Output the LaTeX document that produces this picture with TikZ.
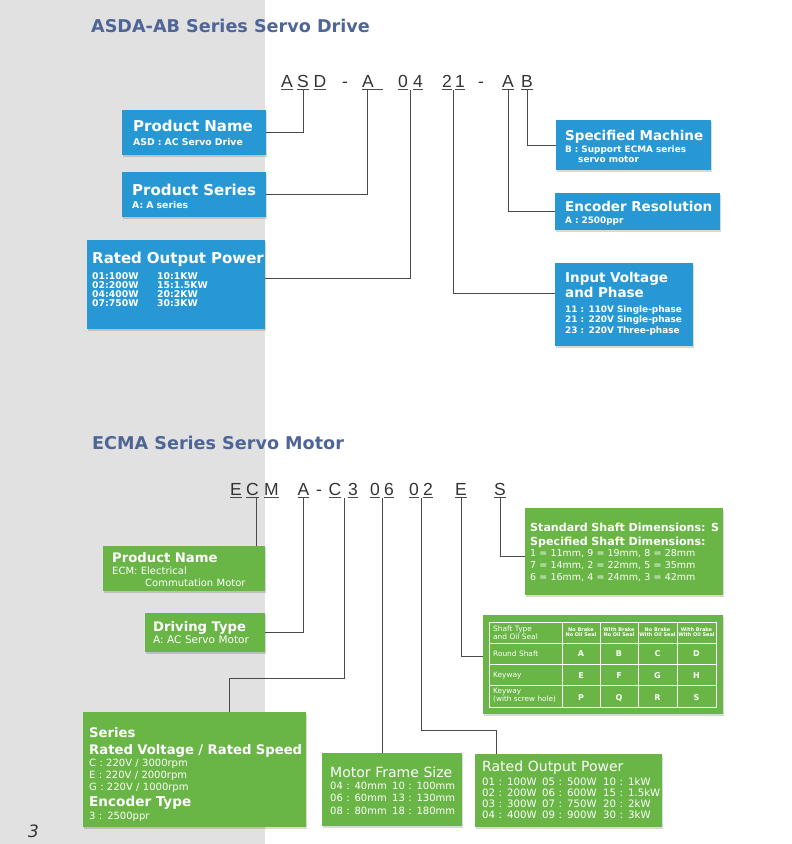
\documentclass[tikz,border=0pt]{standalone}
\usepackage{fontspec}
\setmainfont{DejaVu Sans}
\newfontfamily\codefont{Liberation Sans}
\usepackage{tikz}
\usetikzlibrary{calc,shadows}

\definecolor{drvblue}{HTML}{2898D5}
\definecolor{motgreen}{HTML}{69B545}
\definecolor{headblue}{HTML}{4F6597}
\definecolor{panelgray}{HTML}{E1E1E1}
\definecolor{wirecol}{HTML}{4A4A4A}

% underlined code letter
\newcommand{\ulc}[1]{\setbox0\hbox{#1}\rlap{\color{wirecol}\rule[-3.2pt]{\wd0}{0.8pt}}\box0}

\tikzset{
  heading/.style={anchor=base west, inner sep=0pt, text=headblue, font=\bfseries\fontsize{17.6}{20}\selectfont},
  codechar/.style={anchor=base, inner sep=0pt, text=black!80, font=\codefont\fontsize{17.5}{20}\selectfont},
  shadowed/.style={drop shadow={shadow xshift=1pt, shadow yshift=-2pt, opacity=0.15, fill=black}},
  bluebox/.style={fill=drvblue, anchor=north west, inner sep=0pt, shadowed},
  greenbox/.style={fill=motgreen, anchor=north west, inner sep=0pt, shadowed},
  txt/.style={anchor=base west, inner sep=0pt, text=white, align=left, text width=230pt},
  drvtitle/.style={txt, font=\bfseries\fontsize{15}{15}\selectfont},
  drvtitleR/.style={txt, font=\bfseries\fontsize{13.5}{15}\selectfont},
  drvtext/.style={txt, font=\bfseries\fontsize{9.3}{9}\selectfont},
  drvtextR/.style={txt, font=\bfseries\fontsize{8.9}{10.6}\selectfont},
  mottitle/.style={txt, font=\bfseries\fontsize{13.2}{17}\selectfont},
  mottitleL/.style={txt, font=\fontsize{14}{14}\selectfont},
  mottext/.style={txt, font=\fontsize{10}{12}\selectfont},
  wire/.style={draw=wirecol, line width=0.8pt},
  tablegrid/.style={draw=white, line width=0.8pt},
  cellhead/.style={txt, font=\fontsize{7.4}{8.5}\selectfont},
  colhead/.style={anchor=base, inner sep=0pt, text=white, align=center, text width=38pt, font=\bfseries\fontsize{5}{5.5}\selectfont},
  cellchar/.style={anchor=base, inner sep=0pt, text=white, font=\bfseries\fontsize{8}{8}\selectfont},
}

\begin{document}
\begin{tikzpicture}[x=1pt,y=-1pt]
\useasboundingbox (0,0) rectangle (792,844);
% Drawing panels
\fill[panelgray] (0,0) rectangle (265,844);
\node[heading] (drvhead) at (91,32) {ASDA-AB Series Servo Drive};
\node[heading] (mothead) at (92,449) {ECMA Series Servo Motor};
\node[anchor=base west, inner sep=0pt, text=black!80, font=\itshape\fontsize{17}{17}\selectfont] (pageno) at (28,837) {3};

% Drive code: ASD-A 04 21-AB
\node[codechar] (dA) at (287,87) {\ulc{A}};
\node[codechar] (dS) at (303,87) {\ulc{S}};
\node[codechar] (dD) at (320,87) {\ulc{D}};
\node[codechar] (dDash1) at (345,87) {-};
\node[codechar, anchor=base west] (dA2) at (362,87) {\ulc{A\kern9.5pt}};
\node[codechar] (d0) at (403,87) {\ulc{0}};
\node[codechar] (d4) at (418,87) {\ulc{4}};
\node[codechar] (d2) at (447,87) {\ulc{2}};
\node[codechar] (d1) at (460,87) {\ulc{1}};
\node[codechar] (dDash2) at (481,87) {-};
\node[codechar] (dA3) at (508,87) {\ulc{A}};
\node[codechar] (dB) at (527,87) {\ulc{B}};

% Drive boxes
\node[bluebox, minimum width=144, minimum height=45] (pname) at (122,110) {};
\node[drvtitle] (pnameT) at (133,131) {Product Name};
\node[drvtext] (pnameS) at (133,145) {ASD : AC Servo Drive};
\node[bluebox, minimum width=144, minimum height=45] (pseries) at (122,172) {};
\node[drvtitle] (pseriesT) at (132,195) {Product Series};
\node[drvtext] (pseriesS) at (132,208) {A: A series};
\node[bluebox, minimum width=178, minimum height=89] (rpower) at (87,240) {};
\node[drvtitle] (rpowerT) at (92,263) {Rated Output Power};
\node[drvtext] (rpowerA) at (92,279) {01:100W\\02:200W\\04:400W\\07:750W};
\node[drvtext] (rpowerB) at (157,279) {10:1KW\\15:1.5KW\\20:2KW\\30:3KW};
\node[bluebox, minimum width=155, minimum height=50] (smachine) at (556,120) {};
\node[drvtitleR] (smachineT) at (565,140) {Specified Machine};
\node[drvtextR] (smachineS) at (565,152) {B : Support ECMA series\\\hspace*{13pt}servo motor};
\node[bluebox, minimum width=165, minimum height=37] (encoder) at (555,193) {};
\node[drvtitleR] (encoderT) at (565,211) {Encoder Resolution};
\node[drvtextR] (encoderS) at (565,223) {A : 2500ppr};
\node[bluebox, minimum width=138, minimum height=83] (involt) at (555,263) {};
\node[drvtitleR] (involtT) at (565,282) {Input Voltage\\and Phase};
\node[drvtextR] (involtS) at (565,312) {11 : 110V Single-phase\\21 : 220V Single-phase\\23 : 220V Three-phase};

% Drive connectors
\draw[wire] (dS.south) |- (pname.east);
\draw[wire] ($(dA2.south west)+(5.5,0)$) |- (pseries.east);
\draw[wire] ($(d0.south east)!0.5!(d4.south west)$) |- ($(rpower.north east)+(0,38)$);
\draw[wire] ($(d2.south east)!0.5!(d1.south west)$) |- ($(involt.north west)+(0,30)$);
\draw[wire] (dA3.south) |- (encoder.west);
\draw[wire] (dB.south) |- (smachine.west);

% Motor code: ECM A-C3 06 02 E S
\node[codechar] (eE) at (236,495) {\ulc{E}};
\node[codechar] (eC) at (252.5,495) {\ulc{C}};
\node[codechar] (eM) at (271.5,495) {\ulc{M}};
\node[codechar] (eA) at (303.5,495) {\ulc{A}};
\node[codechar] (eDash) at (319,495) {-};
\node[codechar] (eC2) at (335,495) {\ulc{C}};
\node[codechar] (e3) at (353,495) {\ulc{3}};
\node[codechar] (e0a) at (375,495) {\ulc{0}};
\node[codechar] (e6) at (389,495) {\ulc{6}};
\node[codechar] (e0b) at (414,495) {\ulc{0}};
\node[codechar] (e2) at (428,495) {\ulc{2}};
\node[codechar] (eE2) at (461,495) {\ulc{E}};
\node[codechar] (eS) at (500,495) {\ulc{S}};

% Motor boxes
\node[greenbox, minimum width=162, minimum height=45] (gname) at (103,546) {};
\node[mottitle] (gnameT) at (112,562) {Product Name};
\node[mottext] (gnameS) at (112,574) {ECM: Electrical\\\hspace*{33pt}Commutation Motor};
\node[greenbox, minimum width=120, minimum height=39] (gdrive) at (145,613) {};
\node[mottitle] (gdriveT) at (153,631) {Driving Type};
\node[mottext, font=\fontsize{10.5}{12}\selectfont] (gdriveS) at (153,643) {A: AC Servo Motor};
\node[greenbox, minimum width=198, minimum height=87] (gshaft) at (525,508) {};
\node[mottitle, font=\bfseries\fontsize{11.1}{14}\selectfont] (gshaftT) at (530,531) {Standard Shaft Dimensions: S\\Specified Shaft Dimensions:};
\node[mottext, font=\fontsize{9.5}{12}\selectfont] (gshaftS) at (530,556) {1 = 11mm, 9 = 19mm, 8 = 28mm\\7 = 14mm, 2 = 22mm, 5 = 35mm\\6 = 16mm, 4 = 24mm, 3 = 42mm};
\node[greenbox, minimum width=240, minimum height=99] (gtable) at (483,615) {};
\node[greenbox, minimum width=223, minimum height=115] (gseries) at (83,712) {};
\node[mottitle] (gseriesT) at (89,737) {Series\\Rated Voltage / Rated Speed};
\node[mottext, font=\fontsize{10}{12.4}\selectfont] (gseriesS) at (89,766) {C : 220V / 3000rpm\\E : 220V / 2000rpm\\G : 220V / 1000rpm};
\node[mottitle, font=\bfseries\fontsize{13.6}{15}\selectfont] (gseriesE) at (89,806) {Encoder Type};
\node[mottext, font=\fontsize{10}{12.4}\selectfont] (gseriesF) at (89,819) {3 : 2500ppr};
\node[greenbox, minimum width=140, minimum height=73] (gframe) at (322,753) {};
\node[mottitleL] (gframeT) at (330,777) {Motor Frame Size};
\node[mottext, font=\fontsize{10}{12.5}\selectfont] (gframeA) at (330,789) {04 : 40mm\\06 : 60mm\\08 : 80mm};
\node[mottext, font=\fontsize{10}{12.5}\selectfont] (gframeB) at (392,789) {10 : 100mm\\13 : 130mm\\18 : 180mm};
\node[greenbox, minimum width=187, minimum height=73] (gpower) at (475,754) {};
\node[mottitleL] (gpowerT) at (482,771) {Rated Output Power};
\node[mottext, font=\fontsize{10.2}{11.3}\selectfont] (gpowerA) at (482,785) {01 : 100W\\02 : 200W\\03 : 300W\\04 : 400W};
\node[mottext, font=\fontsize{10.2}{11.3}\selectfont] (gpowerB) at (542,785) {05 : 500W\\06 : 600W\\07 : 750W\\09 : 900W};
\node[mottext, font=\fontsize{10.2}{11.3}\selectfont] (gpowerC) at (603,785) {10 : 1kW\\15 : 1.5kW\\20 : 2kW\\30 : 3kW};

% Shaft table
\draw[tablegrid] (489,622) rectangle (716,707);
\foreach \x in {562,600,638,677} \draw[tablegrid] (\x,622) -- (\x,707);
\foreach \y in {643,664,685} \draw[tablegrid] (489,\y) -- (716,\y);
\node[cellhead] (tHead) at (493,631) {Shaft Type\\and Oil Seal};
\node[cellhead] (tRow1) at (493,656) {Round Shaft};
\node[cellhead] (tRow2) at (493,677) {Keyway};
\node[cellhead, font=\fontsize{7.3}{8.5}\selectfont] (tRow3) at (493,693) {Keyway\\(with screw hole)};
\foreach \x/\a/\b [count=\i] in {581/No Brake/No Oil Seal,619/With Brake/No Oil Seal,657.5/No Brake/With Oil Seal,696.5/With Brake/With Oil Seal}
  \node[colhead] (tCol\i) at (\x,631) {\a\\\b};
\foreach \x/\p/\q/\r [count=\i] in {581/A/E/P,619/B/F/Q,657.5/C/G/R,696.5/D/H/S} {
  \node[cellchar] (tA\i) at (\x,656.5) {\p};
  \node[cellchar] (tB\i) at (\x,678) {\q};
  \node[cellchar] (tC\i) at (\x,700) {\r};
}

% Motor connectors
\draw[wire] ($(eC.south)+(4,0)$) coordinate (cn1) -- (cn1 |- gname.north);
\draw[wire] (eA.south) |- (gdrive.east);
\draw[wire] ($(eC2.south east)!0.5!(e3.south west)$) -- ++(0,180) -| ($(gseries.north west)+(146,0)$);
\draw[wire] ($(e0a.south east)!0.5!(e6.south west)$) coordinate (cn2) -- (cn2 |- gframe.north);
\draw[wire] ($(e0b.south east)!0.5!(e2.south west)$) -- ++(0,232) -| ($(gpower.north west)+(21,0)$);
\draw[wire] (eE2.south) |- ($(gtable.north west)+(0,41)$);
\draw[wire] (eS.south) |- ($(gshaft.north west)+(0,48)$);
\end{tikzpicture}
\end{document}
